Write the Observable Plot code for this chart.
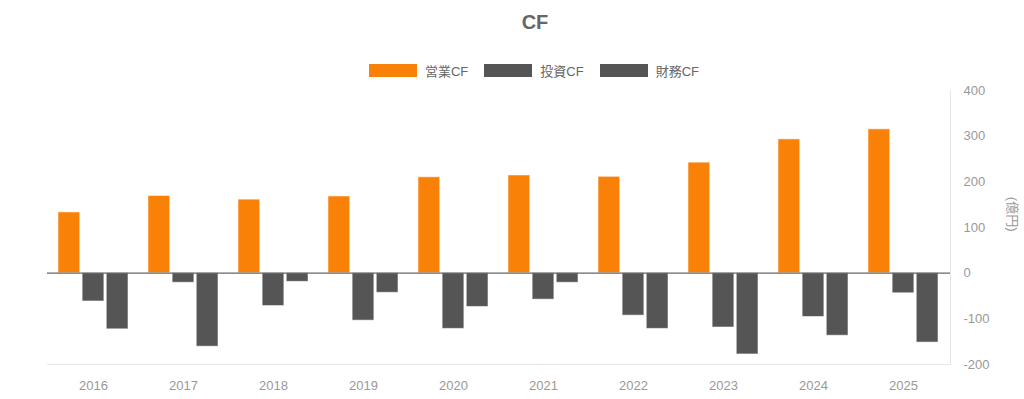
<!DOCTYPE html>
<html>
<head>
<meta charset="utf-8">
<script src="https://cdn.jsdelivr.net/npm/d3@7"></script>
<script src="https://cdn.jsdelivr.net/npm/@observablehq/plot@0.6"></script>
<style>
  html, body { margin: 0; padding: 0; background: #fff; }
  body { width: 1024px; height: 399px; overflow: hidden; font-family: "Liberation Sans", Arial, "Noto Sans CJK JP", sans-serif; }
  #title { height: 44px; line-height: 44px; text-align: center; font-size: 20px; font-weight: bold; color: #666; padding-left: 46px; box-sizing: border-box; }
  #legend { height: 36px; padding-top: 17px; display: flex; justify-content: center; align-items: center; padding-left: 60px; box-sizing: border-box; }
  .lg-swatches { justify-content: center !important; min-height: 0 !important; margin: 0 !important; }
  .lg-swatches-wrap .lg-swatch { margin-right: 16px !important; }
  .lg-swatch > svg { margin-right: 8px !important; }
</style>
</head>
<body>
<div id="title">CF</div>
<div id="legend"></div>
<div id="chart"></div>
<script>
const years = ["2016", "2017", "2018", "2019", "2020", "2021", "2022", "2023", "2024", "2025"];
const seriesNames = ["営業CF", "投資CF", "財務CF"];
const operatingCF = [133, 169, 161, 168, 210, 214, 211, 242, 293, 315];
const investingCF = [-62, -21, -72, -104, -122, -58, -93, -119, -96, -44];
const financingCF = [-123, -161, -19, -43, -74, -21, -122, -178, -137, -152];
const yTicks = [-200, -100, 0, 100, 200, 300, 400];
const unitLabel = "(億円)";
const colors = ["#F98107", "#555555", "#555555"];

const seriesValues = [operatingCF, investingCF, financingCF];
const data = [];
years.forEach((yr, i) => {
  seriesNames.forEach((s, j) => data.push({year: yr, series: s, value: seriesValues[j][i]}));
});

const font = "'Liberation Sans', Arial, 'Noto Sans CJK JP', sans-serif";
const W = 1024, mL = 47, mR = 74;
const padIn = 0.22, padOut = 0.11, barGap = 0.08;
// group width inside each year band, split into three bars
const band = (W - mL - mR) / (years.length - padIn + 2 * padOut) * (1 - padIn);
const step = band / (seriesNames.length - barGap);
const barW = step * (1 - barGap);

const barMarks = seriesNames.map((s, j) =>
  Plot.barY(data.filter(d => d.series === s), {
    x: "year", y: "value", fill: "series",
    insetLeft: j * step,
    insetRight: band - j * step - barW,
    stroke: "white", strokeOpacity: 0.55, strokeWidth: 1
  })
);

const plot = Plot.plot({
  width: W,
  height: 319,
  marginTop: 10,
  marginBottom: 35,
  marginLeft: mL,
  marginRight: mR,
  style: {fontFamily: font, fontSize: "13px", color: "#999", background: "#fff"},
  x: {domain: years, paddingInner: padIn, paddingOuter: padOut, label: null},
  y: {domain: [-200, 400], label: null},
  color: {domain: seriesNames, range: colors},
  marks: [
    Plot.ruleY([-200], {stroke: "#e6e6e6", strokeWidth: 1}),
    Plot.frame({anchor: "right", stroke: "#e6e6e6"}),
    ...barMarks,
    Plot.ruleY([0], {stroke: "#666", strokeWidth: 1.2}),
    Plot.axisX({anchor: "bottom", tickSize: 0, tickPadding: 16, fontSize: 13, fill: "#999", label: null}),
    Plot.axisY({anchor: "right", ticks: yTicks, tickFormat: d => String(d), tickSize: 0, tickPadding: 13, textAnchor: "start", fontSize: 13, fill: "#999", label: null}),
    Plot.text([unitLabel], {frameAnchor: "right", dx: 62, dy: 4, rotate: 90, fontSize: 13, fill: "#999"})
  ]
});
document.getElementById("chart").appendChild(plot);

const legend = plot.legend("color", {
  legend: "swatches",
  swatchWidth: 48,
  swatchHeight: 13,
  className: "lg",
  style: {fontFamily: font, fontSize: "13px", color: "#666"}
});
document.getElementById("legend").appendChild(legend);
</script>
</body>
</html>
